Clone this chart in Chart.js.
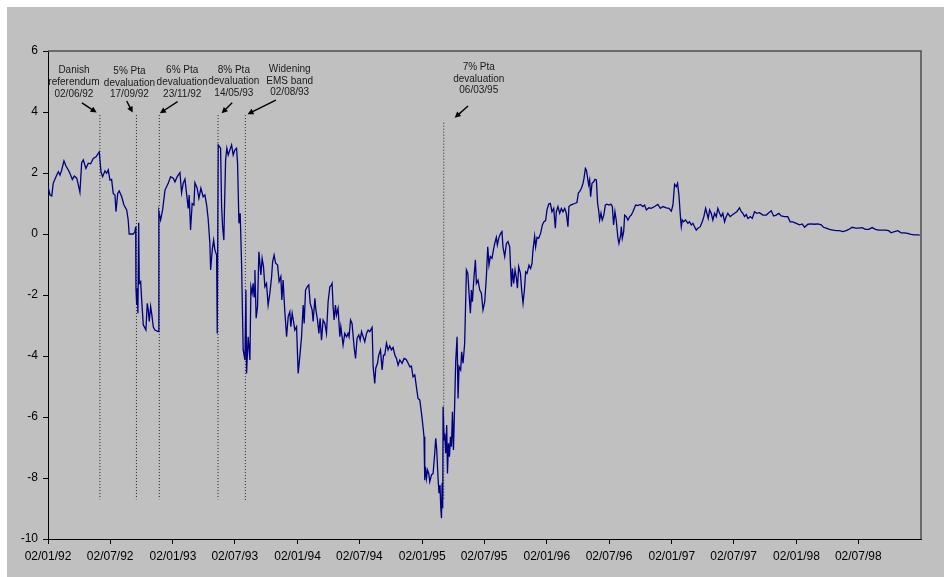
<!DOCTYPE html>
<html>
<head>
<meta charset="utf-8">
<script src="https://cdn.jsdelivr.net/npm/chart.js@4.4.1/dist/chart.umd.min.js"></script>
<style>
  html, body { margin: 0; padding: 0; background: #fff; }
  #wrap { position: absolute; left: 7px; top: 7px; width: 937px; height: 570px; background: #c0c0c0; }
</style>
</head>
<body>
<div id="wrap"><canvas id="miGrafica"></canvas></div>
<script>
// x axis labels (dd/mm/yy), placed at their own dates
var xTickLabels = ['02/01/92', '02/07/92', '02/01/93', '02/07/93', '02/01/94', '02/07/94', '02/01/95',
                   '02/07/95', '02/01/96', '02/07/96', '02/01/97', '02/07/97', '02/01/98', '02/07/98'];
var yMin = -10, yMax = 6, yStep = 2;

// events marked with dotted lines
var eventNames = [['Danish', 'referendum'], ['5% Pta', 'devaluation'], ['6% Pta', 'devaluation'],
                  ['8% Pta', 'devaluation'], ['Widening', 'EMS band'], ['7% Pta', 'devaluation']];
var eventDates = ['02/06/92', '17/09/92', '23/11/92', '14/05/93', '02/08/93', '06/03/95'];
var eventTop = [3.9, 3.9, 3.9, 3.9, 3.9, 3.65];
var eventBottom = [-8.7, -8.7, -8.7, -8.7, -8.75, -8.7];

// daily spread, [decimal year, value]
var spreadSeries = [
  [1992.000,1.55],[1992.016,1.28],[1992.030,1.25],[1992.042,1.66],[1992.064,1.88],[1992.083,2.04],
  [1992.096,1.93],[1992.110,2.10],[1992.128,2.40],[1992.144,2.23],[1992.163,2.10],[1992.176,1.99],
  [1992.195,1.79],[1992.211,1.90],[1992.230,1.83],[1992.243,1.61],[1992.256,1.37],[1992.270,2.34],
  [1992.283,2.43],[1992.304,2.15],[1992.323,2.32],[1992.342,2.30],[1992.363,2.48],[1992.385,2.53],
  [1992.411,2.69],[1992.425,2.04],[1992.438,1.88],[1992.457,2.07],[1992.470,1.99],[1992.483,2.10],
  [1992.497,1.77],[1992.510,1.79],[1992.523,1.33],[1992.537,1.28],[1992.545,0.73],[1992.559,1.33],
  [1992.571,1.41],[1992.591,1.22],[1992.609,0.95],[1992.631,0.79],[1992.643,0.46],[1992.651,0.00],
  [1992.684,0.00],[1992.697,0.08],[1992.703,0.24],[1992.705,-1.73],[1992.711,-2.33],[1992.716,-1.78],
  [1992.721,-2.60],[1992.727,0.37],[1992.732,-1.62],[1992.743,-1.56],[1992.751,-2.16],[1992.764,-2.98],
  [1992.785,-3.15],[1992.796,-2.27],[1992.804,-2.49],[1992.812,-2.87],[1992.823,-2.38],[1992.833,-2.66],
  [1992.844,-3.04],[1992.857,-3.15],[1992.884,-3.20],[1992.889,0.73],[1992.903,0.46],[1992.919,0.79],
  [1992.938,1.44],[1992.964,1.66],[1992.983,1.88],[1993.004,1.83],[1993.018,1.71],[1993.036,1.88],
  [1993.058,2.01],[1993.071,1.35],[1993.084,1.66],[1993.098,1.80],[1993.111,1.33],[1993.124,0.84],
  [1993.132,1.28],[1993.143,0.13],[1993.156,1.00],[1993.170,0.95],[1993.178,1.68],[1993.196,1.50],
  [1993.210,1.17],[1993.226,1.50],[1993.244,1.22],[1993.258,1.28],[1993.272,0.95],[1993.284,0.51],
  [1993.298,-0.31],[1993.304,-1.18],[1993.317,-0.52],[1993.328,-0.20],[1993.338,-0.52],[1993.352,-0.69],
  [1993.357,-3.26],[1993.365,2.92],[1993.376,2.86],[1993.384,2.81],[1993.392,0.90],[1993.400,0.24],
  [1993.410,-0.20],[1993.416,1.00],[1993.424,2.43],[1993.434,2.81],[1993.445,2.59],[1993.458,2.75],
  [1993.472,2.92],[1993.485,2.59],[1993.498,2.75],[1993.512,2.81],[1993.520,2.32],[1993.531,0.35],
  [1993.541,0.68],[1993.552,-0.96],[1993.565,-3.80],[1993.579,-4.13],[1993.587,-1.84],[1993.592,-4.57],
  [1993.605,-3.37],[1993.619,-4.13],[1993.627,-1.73],[1993.637,-1.94],[1993.645,-1.62],[1993.653,-2.06],
  [1993.659,-1.18],[1993.669,-2.76],[1993.680,-2.38],[1993.691,-0.58],[1993.707,-1.34],[1993.717,-0.80],
  [1993.728,-1.07],[1993.739,-1.73],[1993.752,-1.62],[1993.765,-2.33],[1993.779,-1.94],[1993.793,-1.40],
  [1993.801,-0.91],[1993.813,-0.69],[1993.825,-0.96],[1993.841,-1.02],[1993.853,-1.56],[1993.867,-1.40],
  [1993.875,-2.16],[1993.885,-1.51],[1993.899,-2.55],[1993.913,-3.37],[1993.926,-2.71],[1993.939,-2.55],
  [1993.947,-3.04],[1993.958,-2.60],[1993.969,-2.87],[1993.979,-3.15],[1993.993,-3.04],[1994.006,-4.57],
  [1994.019,-4.02],[1994.033,-3.37],[1994.046,-2.33],[1994.054,-2.93],[1994.065,-1.84],[1994.078,-1.73],
  [1994.091,-1.67],[1994.102,-2.27],[1994.118,-2.49],[1994.126,-2.87],[1994.140,-2.11],[1994.148,-2.49],
  [1994.161,-2.82],[1994.172,-3.26],[1994.182,-2.76],[1994.193,-3.48],[1994.206,-2.82],[1994.220,-2.93],
  [1994.233,-3.26],[1994.246,-2.22],[1994.260,-1.73],[1994.273,-1.67],[1994.278,-1.62],[1994.286,-2.38],
  [1994.294,-2.82],[1994.305,-2.33],[1994.313,-2.66],[1994.326,-2.44],[1994.340,-3.37],[1994.348,-3.04],
  [1994.366,-3.64],[1994.380,-3.26],[1994.394,-3.37],[1994.406,-3.26],[1994.414,-3.37],[1994.426,-2.82],
  [1994.438,-2.93],[1994.454,-3.69],[1994.466,-4.08],[1994.478,-3.42],[1994.492,-3.31],[1994.503,-3.48],
  [1994.514,-3.20],[1994.527,-3.37],[1994.540,-3.53],[1994.554,-3.26],[1994.567,-3.15],[1994.580,-3.20],
  [1994.599,-3.06],[1994.607,-4.35],[1994.620,-4.90],[1994.628,-4.40],[1994.642,-4.24],[1994.652,-3.97],
  [1994.666,-3.80],[1994.679,-4.46],[1994.690,-3.97],[1994.700,-3.97],[1994.714,-3.58],[1994.727,-3.80],
  [1994.740,-3.67],[1994.754,-3.80],[1994.767,-3.72],[1994.781,-3.97],[1994.794,-4.08],[1994.807,-4.30],
  [1994.821,-4.13],[1994.839,-4.24],[1994.855,-4.08],[1994.871,-4.11],[1994.882,-4.19],[1994.901,-4.35],
  [1994.914,-4.33],[1994.927,-4.68],[1994.941,-4.62],[1994.954,-5.01],[1994.967,-5.39],[1994.981,-5.44],
  [1994.995,-5.88],[1995.007,-6.32],[1995.015,-6.65],[1995.021,-8.07],[1995.027,-7.63],[1995.035,-8.01],
  [1995.043,-7.74],[1995.053,-7.85],[1995.061,-8.12],[1995.075,-7.90],[1995.088,-7.85],[1995.101,-7.19],
  [1995.109,-6.70],[1995.117,-7.08],[1995.127,-7.96],[1995.135,-8.50],[1995.143,-8.23],[1995.149,-8.94],
  [1995.155,-9.32],[1995.160,-8.17],[1995.165,-8.99],[1995.168,-5.66],[1995.176,-6.75],[1995.181,-6.54],
  [1995.189,-7.19],[1995.197,-6.26],[1995.203,-7.85],[1995.211,-6.86],[1995.219,-7.30],[1995.227,-6.65],
  [1995.235,-6.97],[1995.243,-5.83],[1995.251,-7.08],[1995.261,-5.55],[1995.269,-4.19],[1995.280,-3.37],
  [1995.288,-5.39],[1995.296,-4.35],[1995.309,-4.46],[1995.317,-3.86],[1995.328,-4.24],[1995.341,-3.58],
  [1995.355,-1.18],[1995.366,-1.29],[1995.376,-1.94],[1995.387,-2.60],[1995.395,-1.84],[1995.403,-2.22],
  [1995.414,-1.51],[1995.427,-0.85],[1995.435,-1.62],[1995.448,-1.51],[1995.462,-1.84],[1995.475,-1.94],
  [1995.488,-2.49],[1995.502,-2.22],[1995.515,-1.40],[1995.526,-0.42],[1995.536,-1.02],[1995.547,-0.74],
  [1995.560,-0.80],[1995.574,-0.47],[1995.582,-0.31],[1995.595,-0.11],[1995.603,-0.36],[1995.616,-0.11],
  [1995.630,0.02],[1995.640,0.08],[1995.648,-0.42],[1995.662,-0.74],[1995.676,-0.31],[1995.688,-0.25],
  [1995.702,-0.42],[1995.716,-1.73],[1995.724,-1.13],[1995.734,-1.62],[1995.745,-1.18],[1995.756,-1.45],
  [1995.764,-1.78],[1995.774,-1.07],[1995.788,-1.29],[1995.798,-1.84],[1995.809,-2.27],[1995.820,-1.84],
  [1995.830,-1.24],[1995.841,-1.29],[1995.857,-1.02],[1995.870,-1.13],[1995.881,-0.96],[1995.889,-0.52],
  [1995.902,-0.07],[1995.910,-0.42],[1995.921,-0.11],[1995.934,-0.14],[1995.950,0.02],[1995.964,0.30],
  [1995.977,0.40],[1995.990,0.44],[1996.001,0.79],[1996.015,0.98],[1996.028,1.00],[1996.041,0.73],
  [1996.055,0.84],[1996.068,0.19],[1996.076,0.73],[1996.089,0.90],[1996.103,0.68],[1996.116,0.84],
  [1996.129,0.73],[1996.143,0.84],[1996.156,0.68],[1996.169,0.24],[1996.177,0.90],[1996.191,0.95],
  [1996.209,0.98],[1996.223,1.00],[1996.241,1.03],[1996.253,1.35],[1996.263,1.39],[1996.277,1.50],
  [1996.290,1.66],[1996.298,1.83],[1996.309,2.15],[1996.317,2.10],[1996.325,1.88],[1996.335,1.61],
  [1996.343,1.77],[1996.351,1.22],[1996.362,1.66],[1996.375,1.71],[1996.386,1.79],[1996.397,1.77],
  [1996.407,1.00],[1996.415,0.79],[1996.423,0.46],[1996.434,0.68],[1996.444,0.46],[1996.457,0.62],
  [1996.469,0.95],[1996.482,0.98],[1996.498,0.95],[1996.514,0.98],[1996.525,0.90],[1996.535,0.30],
  [1996.546,0.73],[1996.556,0.46],[1996.570,-0.14],[1996.578,-0.31],[1996.592,-0.03],[1996.597,0.24],
  [1996.605,-0.14],[1996.616,0.08],[1996.624,0.62],[1996.637,0.57],[1996.650,0.46],[1996.664,0.57],
  [1996.677,0.62],[1996.690,0.73],[1996.712,0.95],[1996.730,0.93],[1996.749,0.97],[1996.770,0.90],
  [1996.784,0.95],[1996.798,0.79],[1996.818,0.86],[1996.837,0.84],[1996.864,0.90],[1996.890,0.97],
  [1996.910,0.84],[1996.931,0.90],[1996.958,0.86],[1996.979,0.84],[1996.998,0.75],[1997.011,0.95],
  [1997.024,1.63],[1997.038,1.55],[1997.048,1.66],[1997.059,1.28],[1997.070,0.62],[1997.078,0.24],
  [1997.086,0.46],[1997.096,0.40],[1997.112,0.46],[1997.131,0.35],[1997.144,0.40],[1997.158,0.30],
  [1997.171,0.35],[1997.184,0.24],[1997.198,0.13],[1997.211,0.19],[1997.230,0.24],[1997.246,0.40],
  [1997.259,0.57],[1997.273,0.84],[1997.283,0.68],[1997.294,0.51],[1997.305,0.79],[1997.318,0.68],
  [1997.331,0.46],[1997.345,0.68],[1997.358,0.57],[1997.371,0.84],[1997.385,0.68],[1997.398,0.57],
  [1997.411,0.68],[1997.425,0.40],[1997.438,0.57],[1997.451,0.68],[1997.470,0.57],[1997.486,0.62],
  [1997.505,0.68],[1997.523,0.73],[1997.545,0.86],[1997.559,0.73],[1997.571,0.68],[1997.585,0.57],
  [1997.599,0.64],[1997.612,0.51],[1997.631,0.57],[1997.647,0.51],[1997.665,0.73],[1997.684,0.68],
  [1997.705,0.70],[1997.732,0.62],[1997.759,0.62],[1997.780,0.70],[1997.799,0.76],[1997.818,0.59],
  [1997.839,0.62],[1997.860,0.68],[1997.879,0.59],[1997.906,0.57],[1997.932,0.57],[1997.951,0.40],
  [1997.972,0.40],[1998.000,0.35],[1998.026,0.30],[1998.048,0.33],[1998.066,0.22],[1998.093,0.32],
  [1998.120,0.33],[1998.146,0.32],[1998.173,0.33],[1998.200,0.30],[1998.218,0.22],[1998.240,0.19],
  [1998.266,0.15],[1998.293,0.13],[1998.320,0.11],[1998.346,0.11],[1998.373,0.08],[1998.400,0.11],
  [1998.421,0.15],[1998.448,0.22],[1998.475,0.19],[1998.501,0.19],[1998.528,0.21],[1998.555,0.15],
  [1998.581,0.15],[1998.608,0.21],[1998.635,0.15],[1998.661,0.13],[1998.688,0.13],[1998.715,0.13],
  [1998.741,0.11],[1998.760,0.04],[1998.787,0.08],[1998.814,0.11],[1998.841,0.04],[1998.867,0.04],
  [1998.893,0.02],[1998.921,-0.01],[1998.947,-0.03],[1998.974,-0.03],[1998.990,-0.04]
];

// where each event note sits (x in years, y in axis units) and its arrow
var notePlacement = [
  { x: 1992.208, y: 5.354, from: [1992.272, 4.30], to: [1992.390, 3.98] },
  { x: 1992.653, y: 5.334, from: [1992.631, 4.36], to: [1992.679, 3.98] },
  { x: 1993.076, y: 5.354, from: [1993.039, 4.34], to: [1992.897, 3.96] },
  { x: 1993.490, y: 5.377, from: [1993.477, 4.30], to: [1993.392, 3.96] },
  { x: 1993.938, y: 5.400, from: [1993.827, 4.39], to: [1993.600, 3.93] },
  { x: 1995.454, y: 5.466, from: [1995.368, 4.20], to: [1995.261, 3.81] }
];

// dd/mm/yy -> decimal year counted from 02/01/92
function toYear(s) {
  var p = s.split('/');
  var t = Date.UTC(1900 + Number(p[2]), Number(p[1]) - 1, Number(p[0]));
  return 1992 + (t - Date.UTC(1992, 0, 2)) / (365.25 * 86400000);
}

var fontFamily = '"Liberation Sans", Arial, sans-serif';

var datasets = [{
  data: spreadSeries.map(function (p) { return { x: p[0], y: p[1] }; }),
  borderColor: '#000080',
  borderWidth: 1.3,
  pointRadius: 0,
  tension: 0,
  order: 1
}];

for (var i = 0; i < eventDates.length; i++) {
  var ex = toYear(eventDates[i]);
  datasets.push({
    data: [{ x: ex, y: eventTop[i] }, { x: ex, y: eventBottom[i] }],
    borderColor: '#222',
    borderWidth: 1,
    borderDash: [1, 2],
    pointRadius: 0,
    order: 2
  });
}

// plot frame, event notes and arrows
var notesPlugin = {
  id: 'notes',
  afterDatasetsDraw: function (chart) {
    var ctx = chart.ctx, xs = chart.scales.x, ys = chart.scales.y, area = chart.chartArea;
    ctx.save();
    ctx.strokeStyle = '#4d4d4d';
    ctx.lineWidth = 1.5;
    ctx.beginPath();
    ctx.moveTo(area.left, area.top);
    ctx.lineTo(area.right, area.top);
    ctx.lineTo(area.right, area.bottom);
    ctx.stroke();

    ctx.font = '10px ' + fontFamily;
    ctx.fillStyle = '#1a1a1a';
    ctx.textAlign = 'center';
    ctx.textBaseline = 'middle';
    for (var i = 0; i < notePlacement.length; i++) {
      var n = notePlacement[i];
      var lines = eventNames[i].concat([eventDates[i]]);
      var px = xs.getPixelForValue(n.x), py = ys.getPixelForValue(n.y);
      for (var k = 0; k < lines.length; k++) {
        ctx.fillText(lines[k], px, py + k * 11.6);
      }
      var x1 = xs.getPixelForValue(n.from[0]), y1 = ys.getPixelForValue(n.from[1]);
      var x2 = xs.getPixelForValue(n.to[0]), y2 = ys.getPixelForValue(n.to[1]);
      var ang = Math.atan2(y2 - y1, x2 - x1);
      ctx.strokeStyle = '#000';
      ctx.lineWidth = 1.4;
      ctx.beginPath();
      ctx.moveTo(x1, y1);
      ctx.lineTo(x2 - 4 * Math.cos(ang), y2 - 4 * Math.sin(ang));
      ctx.stroke();
      ctx.fillStyle = '#000';
      ctx.beginPath();
      ctx.moveTo(x2, y2);
      ctx.lineTo(x2 - 6 * Math.cos(ang) + 3 * Math.sin(ang), y2 - 6 * Math.sin(ang) - 3 * Math.cos(ang));
      ctx.lineTo(x2 - 6 * Math.cos(ang) - 3 * Math.sin(ang), y2 - 6 * Math.sin(ang) + 3 * Math.cos(ang));
      ctx.closePath();
      ctx.fill();
      ctx.fillStyle = '#1a1a1a';
    }
    ctx.restore();
  }
};

var ctx = document.getElementById('miGrafica').getContext('2d');
var chart = new Chart(ctx, {
  type: 'line',
  data: { datasets: datasets },
  options: {
    responsive: true,
    maintainAspectRatio: false,
    animation: false,
    layout: { padding: { left: 0, top: 44, right: 23, bottom: 0 } },
    plugins: { legend: { display: false }, tooltip: { enabled: false } },
    scales: {
      x: {
        type: 'linear',
        min: 1992,
        max: 1999,
        afterFit: function (axis) { axis.height = 38; },
        afterBuildTicks: function (axis) {
          axis.ticks = xTickLabels.map(function (l) { return { value: toYear(l) }; });
        },
        grid: { display: true, drawOnChartArea: false, drawTicks: true, tickLength: 5, color: '#000' },
        border: { display: true, color: '#000', width: 1 },
        ticks: {
          autoSkip: false,
          maxRotation: 0,
          padding: 5,
          color: '#000',
          font: { family: fontFamily, size: 12 },
          callback: function (v, i) { return xTickLabels[i]; }
        }
      },
      y: {
        min: yMin,
        max: yMax,
        afterFit: function (axis) { axis.width = 41; },
        grid: { display: true, drawOnChartArea: false, drawTicks: true, tickLength: 5, color: '#000' },
        border: { display: true, color: '#000', width: 1 },
        ticks: {
          stepSize: yStep,
          padding: 5,
          color: '#000',
          font: { family: fontFamily, size: 12 }
        }
      }
    }
  },
  plugins: [notesPlugin]
});
</script>
</body>
</html>
